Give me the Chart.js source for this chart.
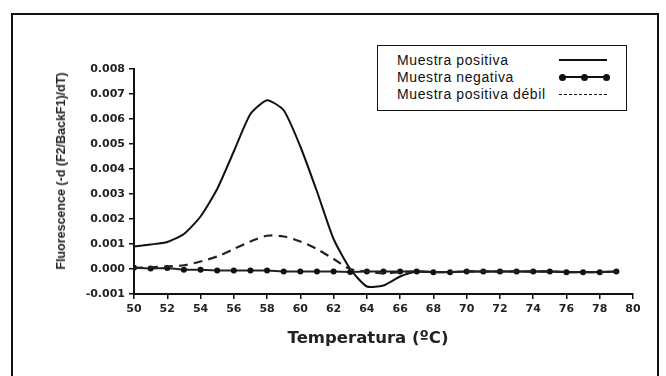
<!DOCTYPE html>
<html>
<head>
<meta charset="utf-8">
<script src="https://cdn.jsdelivr.net/npm/chart.js@4"></script>
<style>
  body { margin: 0; background: #fff; font-family: "Liberation Sans", Arial, sans-serif; }
  #wrap { position: relative; width: 666px; height: 376px; overflow: hidden; }
  #frame { position: absolute; left: 11px; top: 13px; width: 648px; height: 380px; border: 2px solid #111; box-sizing: border-box; }
  #chart { position: absolute; left: 0; top: 0; }
  #legend { position: absolute; left: 377px; top: 45px; width: 250px; height: 66px; border: 1.5px solid #111; box-sizing: border-box; background: #fff; padding-top: 6px; }
  .row { position: relative; height: 17px; font-size: 14px; letter-spacing: 0.6px; color: #111; line-height: 17px; padding-left: 19px; }
  .sample { position: absolute; left: 181px; top: 8px; width: 48px; }
  .axis-title { position: absolute; white-space: nowrap; color: #222; font-weight: bold; transform: translate(-50%, -50%); }
  #yTitle { left: 61px; top: 171px; font-size: 12.5px; transform: translate(-50%, -50%) rotate(-90deg); }
  #xTitle { left: 368px; top: 337px; font-size: 16.5px; font-family: "DejaVu Sans", sans-serif; }
</style>
</head>
<body>
<div id="wrap">
  <div id="frame"></div>
  <canvas id="chart" width="666" height="376"></canvas>
  <div id="legend"></div>
  <div id="yTitle" class="axis-title"></div>
  <div id="xTitle" class="axis-title"></div>
</div>
<script>
const temps = [50, 51, 52, 53, 54, 55, 56, 57, 58, 59, 60, 61, 62, 63, 64, 65, 66, 67, 68, 69, 70, 71, 72, 73, 74, 75, 76, 77, 78, 79];
const positiva = [0.0009, 0.00098, 0.00108, 0.0014, 0.0021, 0.0032, 0.0047, 0.0062, 0.00675, 0.00635, 0.0049, 0.0031, 0.0012, 0.0000, -0.0007, -0.00066, -0.0003, -0.0001, -0.00012, -0.00012, -0.0001, -0.0001, -0.0001, -0.0001, -0.0001, -0.0001, -0.00012, -0.00012, -0.00012, -0.0001];
const negativa = [0.00005, 0.00002, 0.00004, -0.00003, -0.00003, -0.00006, -0.00006, -0.00006, -0.00006, -0.0001, -0.0001, -0.0001, -0.0001, -0.00012, -0.0001, -0.0001, -0.0001, -0.0001, -0.00013, -0.00013, -0.0001, -0.0001, -0.0001, -0.0001, -0.0001, -0.0001, -0.00013, -0.00013, -0.00013, -0.0001];
const debil = [0.00005, 0.00007, 0.0001, 0.00015, 0.0003, 0.0005, 0.0008, 0.0011, 0.00133, 0.0013, 0.0011, 0.0008, 0.0004, 0.0000, -0.0001, -0.00018, -0.00012, -0.0001, -0.00012, -0.00012, -0.0001, -0.0001, -0.0001, -0.0001, -0.0001, -0.0001, -0.00012, -0.00012, -0.00012, -0.0001];
const xTicks = [50, 52, 54, 56, 58, 60, 62, 64, 66, 68, 70, 72, 74, 76, 78, 80];
const seriesNames = ['Muestra positiva', 'Muestra negativa', 'Muestra positiva débil'];
const xTitle = 'Temperatura (ºC)';
const yTitle = 'Fluorescence (-d (F2/BackF1)/dT)';

const pts = arr => temps.map((t, i) => ({ x: t, y: arr[i] }));
const tickFont = { family: '"DejaVu Sans", sans-serif', weight: 'bold', size: 11 };

new Chart(document.getElementById('chart'), {
  type: 'line',
  data: {
    datasets: [
      { label: seriesNames[2], data: pts(debil), borderColor: '#222', borderWidth: 2.2, borderDash: [9, 6], pointRadius: 0, tension: 0.3 },
      { label: seriesNames[1], data: pts(negativa), borderColor: '#222', borderWidth: 1.8, pointRadius: 3, pointBackgroundColor: '#111', pointBorderWidth: 0, tension: 0 },
      { label: seriesNames[0], data: pts(positiva), borderColor: '#111', borderWidth: 2, pointRadius: 0, tension: 0.2 }
    ]
  },
  options: {
    responsive: false,
    animation: false,
    layout: { padding: { left: 53, right: 33, top: 69, bottom: 0 } },
    plugins: { legend: { display: false }, tooltip: { enabled: false } },
    scales: {
      x: {
        type: 'linear', min: 50, max: 80,
        afterBuildTicks: s => { s.ticks = xTicks.map(v => ({ value: v })); },
        ticks: { color: '#222', font: tickFont, padding: 4, maxRotation: 0 },
        grid: { drawOnChartArea: false, tickLength: 5, color: '#111', lineWidth: 1.5 },
        border: { color: '#111', width: 2 },
        afterFit: s => { s.height = 82; }
      },
      y: {
        min: -0.001, max: 0.008,
        ticks: { stepSize: 0.001, color: '#222', font: tickFont, padding: 4, callback: v => v.toFixed(3) },
        grid: { drawOnChartArea: false, tickLength: 5, color: '#111', lineWidth: 1.5 },
        border: { color: '#111', width: 2 },
        afterFit: s => { s.width = 81; }
      }
    }
  }
});

document.getElementById('xTitle').textContent = xTitle;
document.getElementById('yTitle').textContent = yTitle;

// legend box in the top right corner
const legend = document.getElementById('legend');
const samples = [
  '<div style="border-top:2px solid #111;margin-top:-1px"></div>',
  '<div style="border-top:2px solid #111;margin-top:-1px;position:relative">' +
    [0, 22, 44].map(l => `<span style="position:absolute;left:${l}px;top:-4.5px;width:7px;height:7px;border-radius:50%;background:#111"></span>`).join('') + '</div>',
  '<div style="border-top:1px dashed #111"></div>'
];
seriesNames.forEach((name, i) => {
  const row = document.createElement('div');
  row.className = 'row';
  row.innerHTML = `${name}<div class="sample">${samples[i]}</div>`;
  legend.appendChild(row);
});
</script>
</body>
</html>
